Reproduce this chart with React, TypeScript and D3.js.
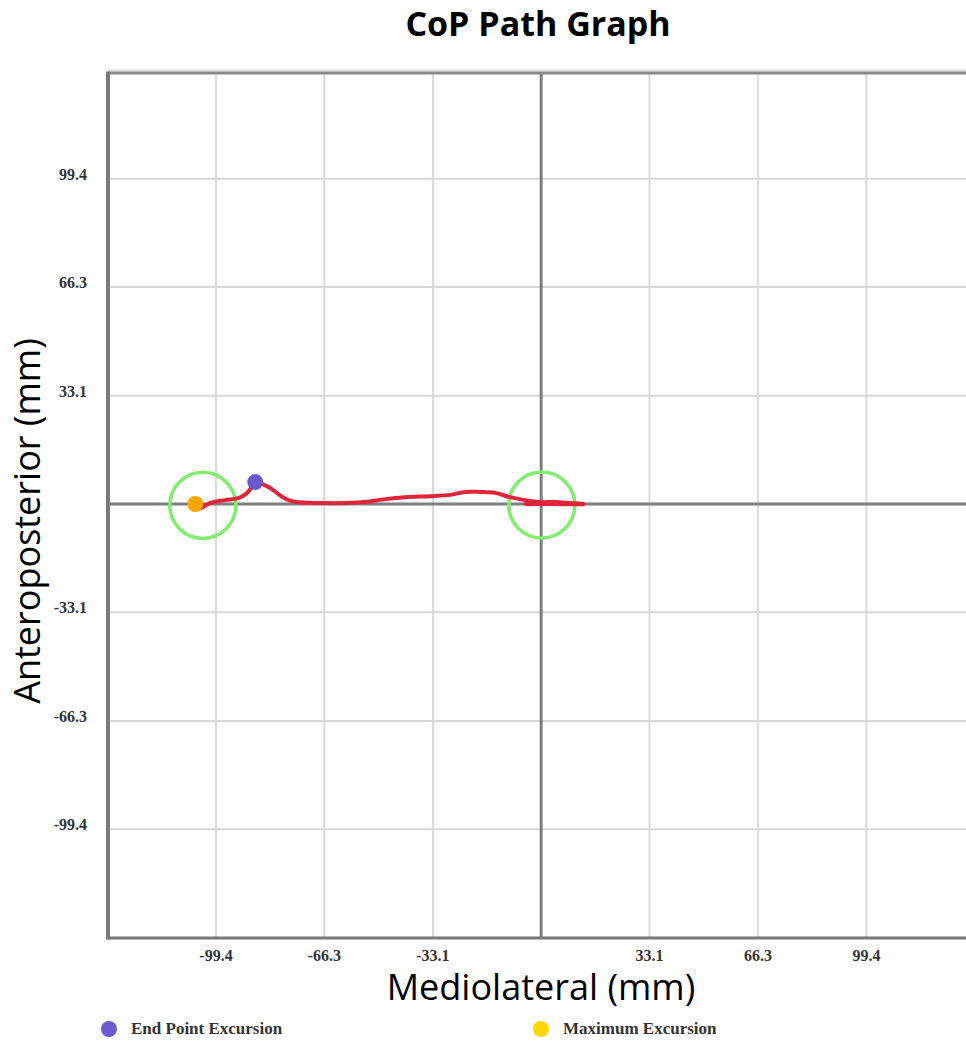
import React from 'react';
import * as d3 from 'd3';

// CoP trace (mm)
const pathX = [-104.8, -103.0, -104.2, -101.2, -96.6, -92.6, -90.2, -88.6, -87.4, -85.3, -82.8, -80.4, -77.9, -74.9, -67.5, -59.9, -53.8, -47.7, -41.6, -33.9, -27.8, -23.2, -18.6, -14.1, -9.5, -4.9, -0.3, 4.3, 8.9, 13.1, 8.9, 2.8, -4.9, 1.0, 7.0, 12.5];
const pathY = [-0.9, -0.2, -1.4, 0.3, 1.2, 1.8, 3.1, 4.9, 6.4, 6.1, 4.9, 3.1, 1.5, 0.6, 0.3, 0.3, 0.6, 1.5, 2.1, 2.4, 2.8, 3.7, 3.7, 3.4, 2.1, 1.2, 0.6, 0.6, 0.3, 0.0, -0.1, 0.0, 0.0, 0.5, 0.2, -0.1];

const tickValues = [-132.5, -99.4, -66.3, -33.1, 0, 33.1, 66.3, 99.4, 132.5];
const tickLabels = ['', '-99.4', '-66.3', '-33.1', '', '33.1', '66.3', '99.4', ''];

const endPoint = { x: -87.4, y: 6.7 };
const maxPoint = { x: -105.7, y: 0 };
const targetCircles = [{ x: -103.4, y: -0.4 }, { x: 0.2, y: -0.3 }];
const targetRadius = 10.1;

const legendItems = ['End Point Excursion', 'Maximum Excursion'];
const legendColors = ['#6a5acd', '#ffd700'];

export default function App() {
  const x = d3.scaleLinear().domain([-132.4, 132.6]).range([108, 975]);
  const y = d3.scaleLinear().domain([-132.6, 131.7]).range([938, 73]);
  const k = x(1) - x(0);

  const pts: [number, number][] = pathX.map((v, i) => [v, pathY[i]]);
  const line = d3.line<[number, number]>()
    .x(d => x(d[0]))
    .y(d => y(d[1]))
    .curve(d3.curveCatmullRom);

  const serif = '"Liberation Serif", "Times New Roman", serif';
  const sans = '"Open Sans", sans-serif';
  const [x0, x1] = x.range();
  const [yb, yt] = y.range();

  return (
    <svg width={966} height={1042} style={{ position: 'absolute', left: 0, top: 0 }}>
      <text x={538} y={36} textAnchor="middle" fontFamily={sans} fontWeight="bold" fontSize={34} fill="#000">CoP Path Graph</text>

      {/* grid */}
      {tickValues.map(v => (
        <g key={'g' + v}>
          <line x1={x(v)} x2={x(v)} y1={yt} y2={yb} stroke="#d9d9d9" strokeWidth={2} />
          <line x1={x0} x2={x1} y1={y(v)} y2={y(v)} stroke="#d9d9d9" strokeWidth={2} />
        </g>
      ))}

      {/* zero axes */}
      <line x1={x(0)} x2={x(0)} y1={yt} y2={yb} stroke="#7f7f7f" strokeWidth={3} />
      <line x1={x0} x2={x1} y1={y(0)} y2={y(0)} stroke="#7f7f7f" strokeWidth={3} />

      {/* frame */}
      <line x1={x0} x2={x1} y1={yt} y2={yt} stroke="#8a8a8a" strokeWidth={3} />
      <line x1={x0} x2={x1} y1={yb} y2={yb} stroke="#7a7a7a" strokeWidth={3} />
      <line x1={x0} x2={x0} y1={yt - 1.5} y2={yb + 1.5} stroke="#7a7a7a" strokeWidth={4} />

      {/* tick labels */}
      {tickValues.map((v, i) => tickLabels[i] && (
        <text key={'xl' + v} x={x(v)} y={961} textAnchor="middle" fontFamily={serif} fontWeight="bold" fontSize={16} fill="#333">{tickLabels[i]}</text>
      ))}
      {tickValues.map((v, i) => tickLabels[i] && (
        <text key={'yl' + v} x={87} y={y(v) + 1} textAnchor="end" fontFamily={serif} fontWeight="bold" fontSize={16} fill="#333">{tickLabels[i]}</text>
      ))}

      {/* target circles */}
      {targetCircles.map((c, i) => (
        <circle key={'c' + i} cx={x(c.x)} cy={y(c.y)} r={targetRadius * k} fill="none" stroke="#80ee6c" strokeWidth={3.5} />
      ))}

      {/* CoP path */}
      <path d={line(pts) || ''} fill="none" stroke="#e0243a" strokeWidth={4} strokeLinejoin="round" strokeLinecap="round" />

      <circle cx={x(maxPoint.x)} cy={y(maxPoint.y)} r={8} fill="#ffa500" />
      <circle cx={x(endPoint.x)} cy={y(endPoint.y)} r={8} fill="#6a5acd" />

      {/* axis titles */}
      <text x={541} y={1000} textAnchor="middle" fontFamily={sans} fontSize={36} fill="#000">Mediolateral (mm)</text>
      <text transform={`translate(40,${y(0) + 17}) rotate(-90)`} textAnchor="middle" fontFamily={sans} fontSize={36} fill="#000">Anteroposterior (mm)</text>

      {/* legend */}
      {legendItems.map((t, i) => (
        <g key={t} transform={`translate(${109 + i * 432},1029)`}>
          <circle r={8} fill={legendColors[i]} />
          <text x={22} y={5} fontFamily={serif} fontWeight="bold" fontSize={17} fill="#333">{t}</text>
        </g>
      ))}
    </svg>
  );
}
